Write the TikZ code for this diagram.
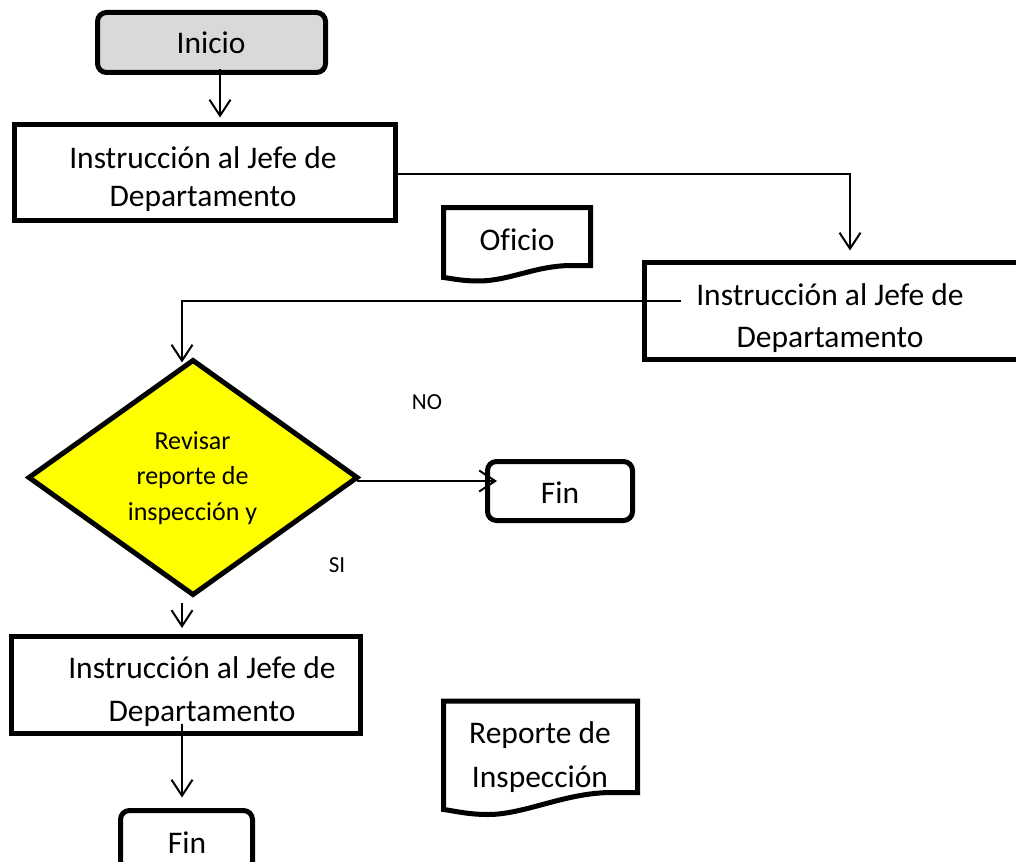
\documentclass[tikz,border=0pt]{standalone}
\usepackage{fontspec}
\setmainfont[Ligatures=NoCommon]{Carlito}
\usetikzlibrary{arrows.meta,shapes.geometric,calc}
\definecolor{inigray}{RGB}{217,217,217}
\definecolor{decyellow}{RGB}{255,255,0}

\begin{document}
\begin{tikzpicture}[x=1pt,y=-1pt,
  box/.style={draw=black, line width=5pt, rectangle, inner sep=0pt, outer sep=0pt},
  rbox/.style={box, rounded corners=9pt},
  docline/.style={draw=black, line width=5pt, line join=miter},
  decision/.style={diamond, draw=black, line width=5pt, fill=decyellow,
    inner sep=0pt, outer sep=0pt},
  bigtxt/.style={anchor=base, inner sep=0pt, font=\fontsize{31.5}{38}\selectfont},
  midtxt/.style={anchor=base, inner sep=0pt, font=\fontsize{26}{31}\selectfont},
  smalltxt/.style={anchor=base, inner sep=0pt, font=\fontsize{23}{28}\selectfont},
  conn/.style={draw=black, line width=2pt,
    -{Straight Barb[length=16pt,width=21pt,line width=2pt]}}
]
\useasboundingbox (0,0) rectangle (1016,861);
\clip (0,0) rectangle (1016,861);

% ---- process boxes ----
\node[rbox, fill=inigray, minimum width=228pt, minimum height=60pt] (inicio) at (211.5,42.5) {};
\node[bigtxt] (tInicio) at (211,54) {Inicio};

\node[box, minimum width=381pt, minimum height=96pt] (box1) at (205,172.5) {};
\node[bigtxt] (t1a) at (203,168) {Instrucción al Jefe de};
\node[bigtxt] (t1b) at (203,206) {Departamento};

\node[box, minimum width=385.5pt, minimum height=97pt] (box2) at (837.25,311) {};
\node[bigtxt] (t2a) at (830,305) {Instrucción al Jefe de};
\node[bigtxt] (t2b) at (830,347) {Departamento};

\node[decision, minimum width=328pt, minimum height=234pt] (dia) at (193,477.5) {};
\node[midtxt] (td1) at (192.5,449) {Revisar};
\node[midtxt] (td2) at (192.5,484) {reporte de};
\node[midtxt] (td3) at (192.5,520) {inspección y};

\node[rbox, minimum width=145pt, minimum height=59pt] (fin1) at (560,491) {};
\node[bigtxt] (tFin1) at (560,503) {Fin};

\node[box, minimum width=348.5pt, minimum height=97pt] (box3) at (186,685) {};
\node[bigtxt] (t3a) at (202,678) {Instrucción al Jefe de};
\node[bigtxt] (t3b) at (202,721) {Departamento};

\node[rbox, minimum width=132pt, minimum height=60pt] (fin2) at (186.5,840.5) {};
\node[bigtxt] (tFin2) at (187,853) {Fin};

% ---- documents ----
\draw[docline] (443.5,207.5) -- (590.5,207.5) -- (590.5,265.5) -- (572,265.5)
  .. controls (535,265.5) and (510,281) .. (478,281)
  .. controls (462,281) and (452,278.5) .. (443.5,277.5) -- cycle;
\node[bigtxt] (tOficio) at (517,250) {Oficio};

\draw[docline] (443.5,701) -- (637.5,701) -- (637.5,792.5) -- (612,792.5)
  .. controls (565,792.5) and (525,814.5) .. (488,814.5)
  .. controls (468,814.5) and (455,811) .. (443.5,809.5) -- cycle;
\node[bigtxt] (tRep1) at (540,743) {Reporte de};
\node[bigtxt] (tRep2) at (540,787) {Inspección};

% ---- branch labels ----
\node[smalltxt] (lNo) at (427,409) {NO};
\node[smalltxt] (lSi) at (337,572) {SI};

% ---- connectors ----
\draw[conn] ($(inicio.south)+(8.5,-3)$) -- ($(inicio.south |- box1.north)+(8.5,-7)$);
\draw[conn] ($(box1.east)+(0,1.5)$) -| ($(box2.north west)+(205.5,-12)$);
\draw[conn] ($(box2.north west)+(36,38.5)$) -| ($(dia.north)+(-11,2)$);
\draw[conn] ($(dia.east)+(0,3.5)$) -- ($(dia.east -| fin1.west)+(9.5,3.5)$);
\draw[conn] ($(dia.south)+(-11,8.5)$) -- ($(dia.south |- box3.north)+(-11,-8.5)$);
\draw[conn] ($(box3.south)+(-4,-10)$) -- ($(box3.south |- fin2.north)+(-4,-13)$);
\end{tikzpicture}
\end{document}
